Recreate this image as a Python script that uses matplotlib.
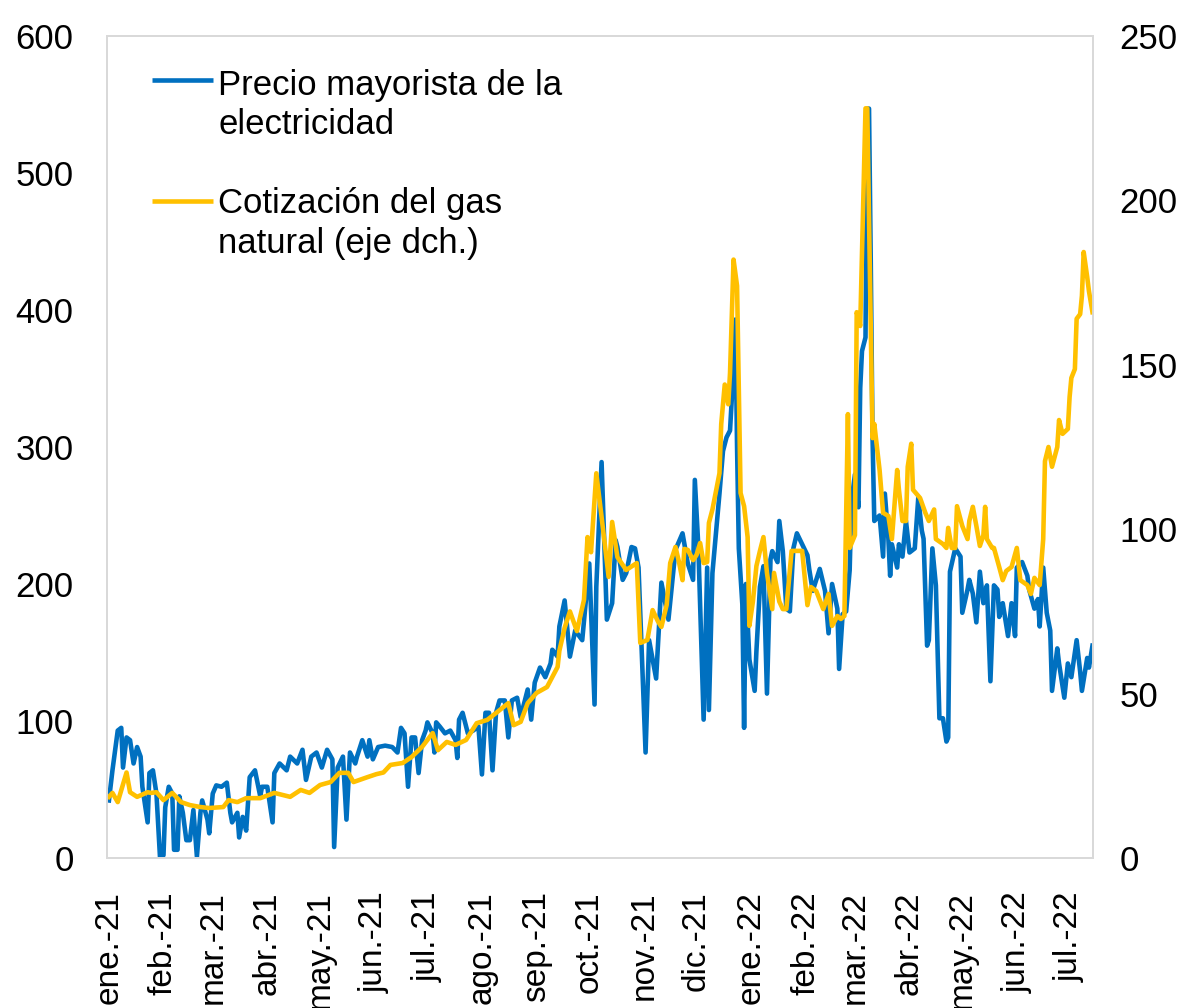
import matplotlib
matplotlib.use("Agg")
import matplotlib.pyplot as plt
import pandas as pd

plt.rcParams["font.family"] = ["Liberation Sans", "DejaVu Sans"]

START = "2021-01-01"

# days since 1 Jan 2021 -> wholesale electricity price (left axis)
elec_day = [0, 2, 5, 7, 8, 10, 12, 14, 16, 18, 19, 22, 23, 25, 27, 29, 31,
            32, 34, 36, 37, 39, 40, 42, 44, 46, 48, 50, 52, 53, 56, 57,
            59, 61, 64, 67, 69, 70, 73, 74, 76, 78, 80, 83, 86, 87,
            90, 93, 94, 97, 101, 103, 107, 110, 112, 115, 118,
            121, 124, 127, 128, 130, 133, 135, 137, 140, 141, 144, 147, 148, 150,
            153, 157, 161, 164, 166, 168, 170, 172, 174, 176, 178, 180,
            181, 184, 185, 186, 188, 191, 194, 197, 198, 199, 201, 204, 207, 210,
            212, 214, 216, 218, 220, 222, 225, 227, 229, 232, 234, 238, 240, 242,
            245, 248, 251, 252, 255, 256, 259, 262, 265, 269,
            273, 276, 277, 280, 283, 286, 288, 289, 292, 294, 297, 299, 301,
            305, 307, 311, 314, 318, 322, 326, 329, 332, 333,
            335, 338, 340, 341, 343, 345, 347, 349, 351, 353, 354, 355, 356, 357, 358, 360,
            361, 362, 364, 367, 368, 370, 372, 374, 376, 377, 380, 381, 383, 385, 387, 389, 391,
            394, 397, 398, 400, 404, 407, 409, 411, 414, 415, 417, 419, 421,
            422, 424, 426, 427, 428, 430, 431, 432, 433, 434, 435, 438, 440, 441, 443, 444,
            445, 448, 449, 451, 453, 455, 458, 460, 462, 463, 465, 466, 468, 470, 472, 474,
            476, 477, 478, 481, 484, 485, 488, 489, 491, 493, 495, 497, 499, 501, 503, 505,
            506, 508, 511, 513, 515, 516, 519, 522, 523, 526, 528, 529, 531, 533, 535,
            536, 539, 540, 543, 545, 547, 550, 552, 553, 556, 557, 559]
elec_val = [42, 64, 93, 95, 66, 88, 86, 69, 81, 74, 52, 26, 62, 64, 47, 1, 2,
            37, 52, 47, 6, 6, 45, 33, 13, 13, 35, 1, 33, 42, 28, 18,
            47, 53, 52, 55, 33, 26, 33, 15, 30, 20, 59, 64, 45, 52,
            52, 26, 62, 69, 64, 74, 69, 79, 57, 74, 77,
            66, 79, 72, 8, 66, 74, 28, 77, 69, 74, 86, 74, 86, 72,
            81, 82, 81, 77, 95, 91, 52, 88, 88, 62, 86, 93,
            99, 91, 77, 99, 96, 91, 93, 86, 73, 101, 106, 91, 93, 96,
            61, 106, 106, 64, 106, 115, 115, 88, 115, 117, 103, 123, 101, 128,
            139, 132, 142, 152, 147, 169, 188, 147, 166, 159,
            215, 112, 198, 289, 174, 186, 232, 227, 203, 208, 227, 226, 212,
            77, 159, 131, 201, 174, 225, 237, 215, 203, 276,
            227, 101, 212, 108, 208, 237, 266, 297, 307, 312, 335, 390, 393, 300, 226, 185,
            95, 200, 145, 122, 151, 198, 213, 120, 218, 224, 216, 246, 224, 182, 180, 226, 237,
            229, 221, 211, 195, 211, 195, 164, 200, 182, 138, 178, 180, 210,
            260, 280, 256, 343, 370, 380, 547, 547, 434, 307, 246, 250, 220, 266, 233, 206,
            229, 212, 229, 220, 246, 223, 226, 263, 239, 233, 155, 159, 226, 199, 102, 102,
            85, 88, 209, 226, 220, 179, 196, 203, 193, 172, 209, 186, 199, 129, 199, 196,
            176, 186, 162, 186, 162, 212, 216, 206, 196, 182, 189, 169, 212, 179, 166,
            122, 153, 142, 117, 142, 132, 159, 136, 122, 146, 139, 155]

# days since 1 Jan 2021 -> natural gas price (right axis)
gas_day = [0, 2, 5, 10, 12, 16, 22, 24, 27, 31, 36, 41, 46, 52, 57, 65, 68, 73,
           78, 86, 94, 103, 109, 114, 120, 126, 131, 136, 139, 147, 152, 156,
           160, 167, 172, 178, 184, 187, 192, 197, 203, 209, 215, 220, 227, 230,
           234, 238, 243, 249, 255, 256, 259, 262, 266, 270, 272, 274, 277, 280,
           284, 286, 289, 294, 300, 302, 306, 309, 312, 314, 317, 319, 322, 324,
           326, 327, 329, 332, 334, 336, 338, 340, 341, 343, 347, 348, 350, 352,
           353, 355, 357, 359, 361, 363, 364, 366, 368, 370, 372, 374, 377, 378,
           381, 383, 385, 388, 391, 394, 397, 399, 402, 406, 409, 411, 414, 416,
           418, 420, 421, 424, 425, 427, 430, 431, 434, 435, 438, 440, 443, 445,
           448, 449, 451, 453, 454, 456, 457, 461, 464, 466, 469, 470, 474, 476,
           477, 479, 481, 482, 485, 488, 489, 491, 493, 495, 497, 498, 499, 502,
           503, 506, 508, 510, 513, 516, 518, 522, 524, 526, 529, 531, 532, 534,
           536, 539, 540, 542, 545, 546, 547, 549, 550, 552, 553, 554, 556, 557, 559]
gas_val = [18.6, 19.8, 17, 26, 20, 18.6, 20, 19.8, 20, 17.6, 19.8, 17, 16.1, 15.5, 15.2, 15.5, 17.6, 17,
           18.2, 18.2, 19.8, 18.6, 20.7, 19.8, 22.2, 23.1, 25.9, 25.9, 23.1, 24.6, 25.5, 26,
           28.3, 28.9, 30.7, 33.8, 38, 32.8, 35.3, 34.4, 35.9, 41, 42, 44.1, 47.1, 40.4,
           41.4, 47.1, 50.2, 52, 58.1, 63, 70, 75, 69, 78.5, 97.6, 93, 117, 103.7,
           85.5, 102.2, 91.5, 87.6, 89.7, 65.4, 66.3, 75.4, 72, 70.3, 77, 89.7, 94.6, 90,
           84.5, 94, 93.7, 90.6, 92.2, 95.8, 89.7, 90, 101.9, 106, 117, 132, 144, 138,
           147.5, 182, 174, 111, 107, 97.6, 70.6, 78, 88.8, 93.4, 97.6, 86.7, 75.7, 86.7,
           78, 75.7, 75.7, 93.4, 93.4, 93.4, 76.9, 82.4, 81.2, 75.7, 80.3, 70.6, 73.6, 72.7,
           73.6, 135, 94.3, 98.2, 166, 161.8, 228, 228, 127.7, 132, 118, 105, 104, 97,
           118, 112, 102.5, 102.5, 119, 126, 112, 109.5, 105, 102.5, 106, 97, 95.5, 94.3,
           100.4, 94.3, 94.3, 107, 101, 97, 102.5, 106.8, 101, 94.9, 98.2, 106.8, 97, 94.3,
           94.3, 88.5, 84.5, 87.3, 88.5, 94.3, 84.5, 83, 80.3, 85.2, 83, 97, 120.7, 125,
           119, 125, 133.2, 129, 130.5, 140.2, 146, 148.7, 164, 165.4, 171, 184.3, 176.7, 172.4, 166]

month_labels = ["ene.-21", "feb.-21", "mar.-21", "abr.-21", "may.-21", "jun.-21",
                "jul.-21", "ago.-21", "sep.-21", "oct.-21", "nov.-21", "dic.-21",
                "ene.-22", "feb.-22", "mar.-22", "abr.-22", "may.-22", "jun.-22",
                "jul.-22"]

series_labels = ["Precio mayorista de la\nelectricidad",
                 "Cotización del gas\nnatural (eje dch.)"]

BLUE = "#0070C0"
GOLD = "#FFC000"
BORDER = "#D9D9D9"
LW = 3.3


def main():
    assert len(elec_day) == len(elec_val)
    assert len(gas_day) == len(gas_val)

    W, H = 1185, 1008
    fig = plt.figure(figsize=(W / 100, H / 100), dpi=100)
    left, right, top, bottom = 107, 1093, 36, 858
    ax = fig.add_axes([left / W, 1 - bottom / H, (right - left) / W, (bottom - top) / H])
    ax2 = ax.twinx()

    ax.plot(elec_day, elec_val, color=BLUE, lw=LW, solid_joinstyle="round")
    ax2.plot(gas_day, gas_val, color=GOLD, lw=LW, solid_joinstyle="round")

    ax.set_xlim(-1.1, 559.3)
    ax.set_ylim(0, 600)
    ax2.set_ylim(0, 250)

    start = pd.Timestamp(START)
    ticks = [(d - start).days for d in pd.date_range(START, "2022-07-01", freq="MS")]
    ax.set_xticks(ticks)
    ax.set_xticklabels(month_labels, rotation=90)
    ax.set_yticks(range(0, 601, 100))
    ax2.set_yticks(range(0, 251, 50))

    ax.tick_params(axis="x", length=0, pad=24, labelsize=24)
    ax.tick_params(axis="y", length=0, pad=24, labelsize=25)
    ax2.tick_params(axis="y", length=0, pad=19, labelsize=25)

    for a in (ax, ax2):
        for sp in a.spines.values():
            sp.set_color(BORDER)
            sp.set_linewidth(1.3)

    # legend drawn by hand: handle sits on the first text line, as in the source
    # (hy = handle row, ty = baseline of the label's last line, in pixels from top)
    for (hy, ty), color, label in zip([(80, 134), (201, 253)], [BLUE, GOLD], series_labels):
        yh = (bottom - hy) / (bottom - top)
        yt = (bottom - ty) / (bottom - top)
        ax.plot([(152 - left) / (right - left), (213 - left) / (right - left)], [yh, yh],
                transform=ax.transAxes, color=color, lw=LW, solid_capstyle="butt")
        ax.text((218 - left) / (right - left), yt, label, transform=ax.transAxes,
                fontsize=25, va="baseline", ha="left", linespacing=1.25)

    fig.savefig("out.png", dpi=100)


if __name__ == "__main__":
    main()
